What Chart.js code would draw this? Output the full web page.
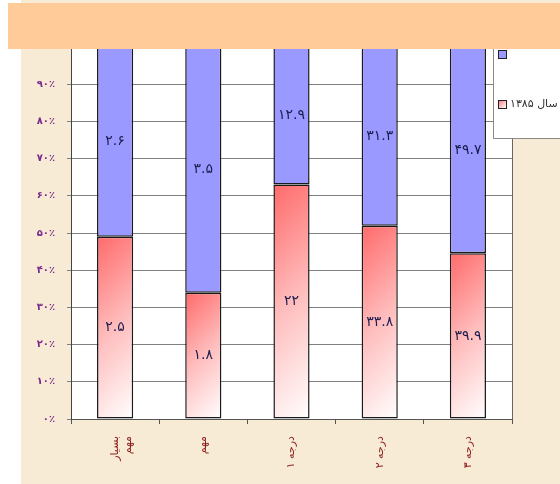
<!DOCTYPE html>
<html>
<head>
<meta charset="utf-8">
<script src="https://cdn.jsdelivr.net/npm/chart.js@4"></script>
<style>
  html, body { margin: 0; padding: 0; background: #fff; }
  #wrap { width: 560px; height: 484px; }
</style>
</head>
<body>
<div id="wrap"><canvas id="chart" width="560" height="484"></canvas></div>
<script>
const categories = [['بسیار', 'مهم'], 'مهم', 'درجه ۱', 'درجه ۲', 'درجه ۳'];
const year1385 = [2.5, 1.8, 22, 33.8, 39.9];
const year1386 = [2.6, 3.5, 12.9, 31.3, 49.7];
const yTicks = [0, 10, 20, 30, 40, 50, 60, 70, 80, 90, 100];

const totals = year1385.map((v, i) => v + year1386[i]);
const pct1385 = year1385.map((v, i) => v / totals[i] * 100);
const pct1386 = year1386.map((v, i) => v / totals[i] * 100);

const faDigits = '۰۱۲۳۴۵۶۷۸۹';
function toFa(s) {
  return String(s).replace(/[0-9]/g, d => faDigits[+d]);
}

const FONT = '"DejaVu Sans", sans-serif';

// red bars: 45deg fade from top-left red to bottom-right white
function redFill(c) {
  const chart = c.chart;
  if (!chart.chartArea || !chart.scales.x) return '#ff9a9a';
  const x = chart.scales.x, y = chart.scales.y;
  const w = (x.getPixelForValue(1) - x.getPixelForValue(0)) * 0.41;
  const left = x.getPixelForValue(c.dataIndex) - w / 2;
  const top = y.getPixelForValue(pct1385[c.dataIndex]);
  const h = y.getPixelForValue(0) - top;
  const d = (w + h) / 2;
  const g = chart.ctx.createLinearGradient(left, top, left + d, top + d);
  g.addColorStop(0, '#ff6a6a');
  g.addColorStop(0.5, '#ffbdbd');
  g.addColorStop(1, '#ffffff');
  return g;
}

const backdrop = {
  id: 'backdrop',
  beforeDraw(chart) {
    const ctx = chart.ctx, a = chart.chartArea;
    ctx.save();
    ctx.fillStyle = '#ffffff';
    ctx.fillRect(0, 0, chart.width, chart.height);
    ctx.fillStyle = '#f8ebd6';
    ctx.fillRect(21, 0, chart.width - 21, chart.height);
    ctx.fillStyle = '#ffffff';
    ctx.fillRect(a.left, a.top, a.right - a.left, a.bottom - a.top);
    ctx.restore();
  },
  afterDraw(chart) {
    const ctx = chart.ctx, a = chart.chartArea;
    ctx.save();
    // plot frame right edge
    ctx.strokeStyle = '#666';
    ctx.lineWidth = 1;
    ctx.beginPath();
    ctx.moveTo(a.right + 0.5, a.top);
    ctx.lineTo(a.right + 0.5, a.bottom);
    ctx.stroke();

    // segment values
    ctx.fillStyle = '#1c1c4e';
    ctx.font = '14px ' + FONT;
    ctx.textAlign = 'center';
    ctx.textBaseline = 'middle';
    chart.data.datasets.forEach((ds, di) => {
      const meta = chart.getDatasetMeta(di);
      meta.data.forEach((bar, i) => {
        const mid = (bar.y + bar.base) / 2;
        ctx.fillText(toFa(ds.raw[i]), bar.x, mid);
      });
    });

    // legend box
    const lx = 493, ly = 20, lw = 80, lh = 118;
    ctx.fillStyle = '#ffffff';
    ctx.fillRect(lx, ly, lw, lh);
    ctx.strokeStyle = '#8a8a8a';
    ctx.strokeRect(lx + 0.5, ly + 0.5, lw, lh);
    const items = [
      { label: chart.data.datasets[1].label, y: 54, fill: '#9999ff' },
      { label: chart.data.datasets[0].label, y: 104, fill: null }
    ];
    items.forEach(it => {
      if (it.fill) {
        ctx.fillStyle = it.fill;
      } else {
        const g = ctx.createLinearGradient(498, it.y - 4, 506, it.y + 4);
        g.addColorStop(0, '#ff7070');
        g.addColorStop(1, '#ffffff');
        ctx.fillStyle = g;
      }
      ctx.fillRect(498, it.y - 4, 8, 8);
      ctx.strokeStyle = '#222';
      ctx.strokeRect(498.5, it.y - 3.5, 8, 8);
      ctx.fillStyle = '#333';
      ctx.font = '11px ' + FONT;
      ctx.textAlign = 'left';
      ctx.textBaseline = 'middle';
      ctx.fillText(it.label, 510, it.fill ? it.y - 12 : it.y);
    });

    // header band
    ctx.fillStyle = '#ffcc99';
    ctx.fillRect(8, 3, chart.width - 8, 46);
    ctx.restore();
  }
};

new Chart(document.getElementById('chart'), {
  type: 'bar',
  data: {
    labels: categories,
    datasets: [
      {
        label: 'سال ۱۳۸۵',
        data: pct1385,
        raw: year1385,
        backgroundColor: redFill,
        borderColor: '#1a1a1a',
        borderWidth: 1.5,
        borderSkipped: false,
        categoryPercentage: 1,
        barPercentage: 0.41
      },
      {
        label: 'سال ۱۳۸۶',
        data: pct1386,
        raw: year1386,
        backgroundColor: '#9999ff',
        borderColor: '#1a1a1a',
        borderWidth: 1.5,
        borderSkipped: false,
        categoryPercentage: 1,
        barPercentage: 0.41
      }
    ]
  },
  options: {
    responsive: false,
    animation: false,
    layout: { padding: { top: 47, right: 48, left: 0, bottom: 0 } },
    plugins: {
      legend: { display: false },
      tooltip: { enabled: false }
    },
    scales: {
      x: {
        stacked: true,
        grid: { drawOnChartArea: false, drawTicks: true, tickLength: 5, color: '#555' },
        border: { color: '#555' },
        ticks: {
          color: '#8b1c1c',
          font: { family: FONT, size: 11 },
          minRotation: 90,
          maxRotation: 90,
          padding: 12,
          autoSkip: false
        },
        afterFit(s) { s.height = 65; }
      },
      y: {
        stacked: true,
        min: 0,
        max: 100,
        grid: { color: '#808080', tickLength: 4 },
        border: { color: '#444' },
        afterBuildTicks(s) { s.ticks = yTicks.map(v => ({ value: v })); },
        ticks: {
          color: '#7a2a8c',
          font: { family: FONT, size: 10, weight: 'bold' },
          padding: 12,
          callback: v => v === 100 ? '' : toFa(v) + '٪'
        },
        afterFit(s) { s.width = 71; }
      }
    }
  },
  plugins: [backdrop]
});
</script>
</body>
</html>
